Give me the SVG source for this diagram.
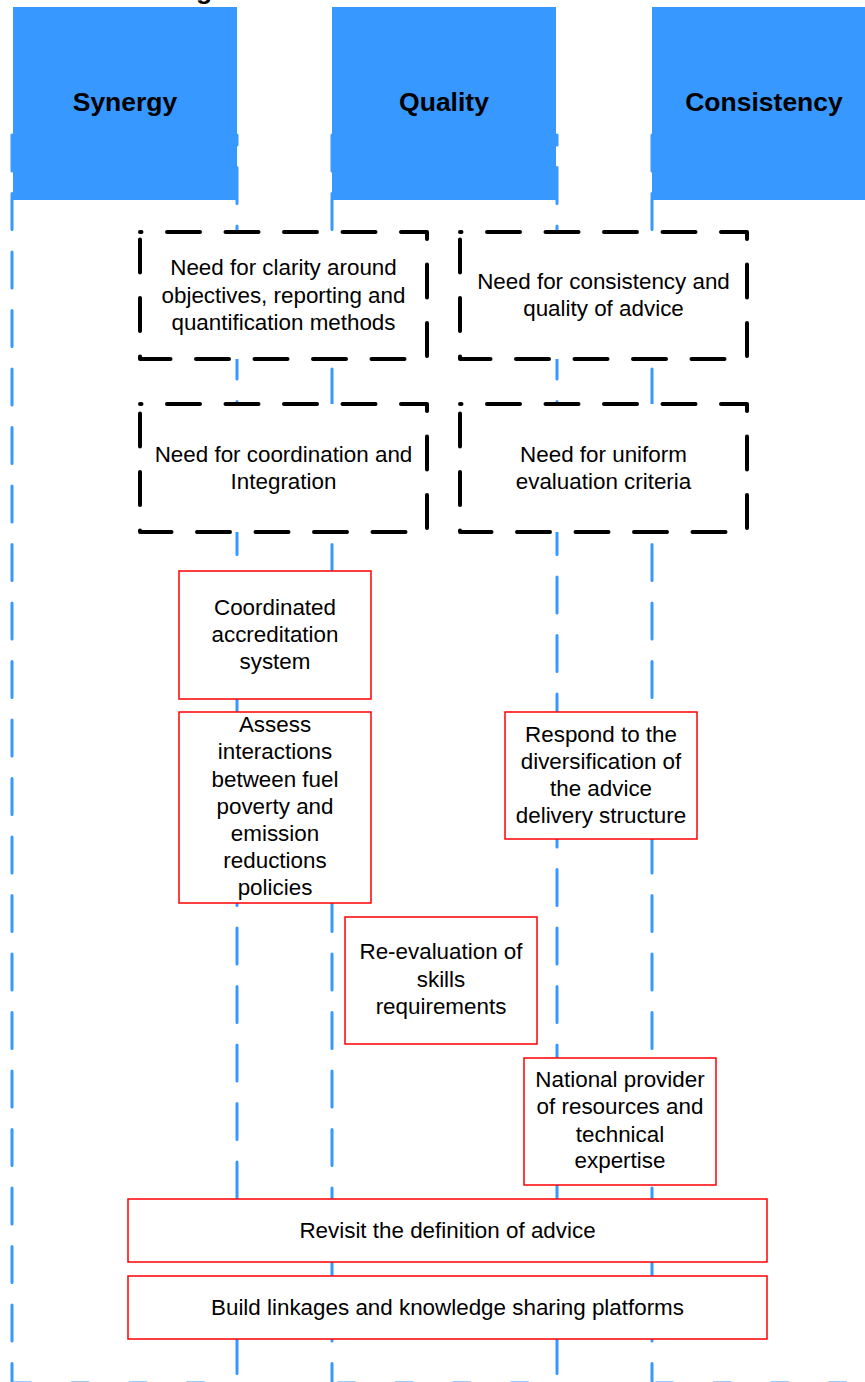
<svg xmlns="http://www.w3.org/2000/svg" width="865" height="1382" viewBox="0 0 865 1382">
<style>
.lane{fill:none;stroke:#3798FF;stroke-width:3;stroke-linecap:round;stroke-dasharray:36 22.5}
.laneB{stroke-dashoffset:26}
.base{fill:none;stroke:#3798FF;stroke-width:3;stroke-linecap:round;stroke-dasharray:17 40.7}
.hdr{fill:#3798FF}
.hdrt{font-family:"Liberation Sans",Arial,sans-serif;font-weight:bold;font-size:26.5px;fill:#000;text-anchor:middle}
.need{fill:#fff;stroke:#000;stroke-width:4;stroke-linecap:round;stroke-linejoin:round;stroke-dasharray:33 25.5;stroke-dashoffset:31.5}
.act{fill:#fff;stroke:#FF0000;stroke-width:1.5}
.t{font-family:"Liberation Sans",Arial,sans-serif;font-size:22.4px;fill:#000;text-anchor:middle}
</style>
<rect width="865" height="1382" fill="#fff"/>
<text class="hdrt" x="204" y="-1.5">g</text>
<g id="connectors">
  <path class="lane" d="M12,135 V1383"/>
  <path class="lane laneB" d="M237,135 V1383"/>
  <path class="lane" d="M332,135 V1383"/>
  <path class="lane laneB" d="M557,135 V1383"/>
  <path class="lane" d="M652,135 V1383"/>
  <path class="base" d="M14,1383 H237"/>
  <path class="base" d="M338,1383 H557"/>
  <path class="base" d="M656,1383 H865"/>
</g>
<g id="lane-synergy">
  <rect class="hdr" x="13" y="7" width="224" height="193"/>
  <text class="hdrt" x="125" y="111">Synergy</text>
</g>
<g id="lane-quality">
  <rect class="hdr" x="332" y="7" width="224" height="193"/>
  <text class="hdrt" x="444" y="111">Quality</text>
</g>
<g id="lane-consistency">
  <rect class="hdr" x="652" y="7" width="225" height="193"/>
  <text class="hdrt" x="764" y="111">Consistency</text>
</g>
<g id="need-clarity">
  <path class="need" d="M140,232 H427 V359 H140 Z"/>
  <text class="t" x="283.5" y="275">Need for clarity around</text>
  <text class="t" x="283.5" y="302.5">objectives, reporting and</text>
  <text class="t" x="283.5" y="330">quantification methods</text>
</g>
<g id="need-consistency">
  <path class="need" d="M460,232 H747 V359 H460 Z"/>
  <text class="t" x="603.5" y="289">Need for consistency and</text>
  <text class="t" x="603.5" y="316">quality of advice</text>
</g>
<g id="need-coordination">
  <path class="need" d="M140,404 H427 V532 H140 Z"/>
  <text class="t" x="283.5" y="462">Need for coordination and</text>
  <text class="t" x="283.5" y="489">Integration</text>
</g>
<g id="need-uniform">
  <path class="need" d="M460,404 H747 V532 H460 Z"/>
  <text class="t" x="603.5" y="462">Need for uniform</text>
  <text class="t" x="603.5" y="489">evaluation criteria</text>
</g>
<g id="coordinated-accreditation">
  <rect class="act" x="179" y="571" width="192" height="128"/>
  <text class="t" x="275" y="615">Coordinated</text>
  <text class="t" x="275" y="642">accreditation</text>
  <text class="t" x="275" y="669">system</text>
</g>
<g id="assess-interactions">
  <rect class="act" x="179" y="712" width="192" height="191"/>
  <text class="t" x="275" y="732">Assess</text>
  <text class="t" x="275" y="759">interactions</text>
  <text class="t" x="275" y="787">between fuel</text>
  <text class="t" x="275" y="814">poverty and</text>
  <text class="t" x="275" y="841">emission</text>
  <text class="t" x="275" y="868">reductions</text>
  <text class="t" x="275" y="895">policies</text>
</g>
<g id="respond-diversification">
  <rect class="act" x="505" y="712" width="192" height="127"/>
  <text class="t" x="601" y="742">Respond to the</text>
  <text class="t" x="601" y="769">diversification of</text>
  <text class="t" x="601" y="796">the advice</text>
  <text class="t" x="601" y="823">delivery structure</text>
</g>
<g id="re-evaluation">
  <rect class="act" x="345" y="917" width="192" height="127"/>
  <text class="t" x="441" y="959">Re-evaluation of</text>
  <text class="t" x="441" y="987">skills</text>
  <text class="t" x="441" y="1014">requirements</text>
</g>
<g id="national-provider">
  <rect class="act" x="524" y="1058" width="192" height="127"/>
  <text class="t" x="620" y="1087">National provider</text>
  <text class="t" x="620" y="1114">of resources and</text>
  <text class="t" x="620" y="1142">technical</text>
  <text class="t" x="620" y="1168">expertise</text>
</g>
<g id="revisit-definition">
  <rect class="act" x="128" y="1199" width="639" height="63"/>
  <text class="t" x="447.5" y="1238">Revisit the definition of advice</text>
</g>
<g id="build-linkages">
  <rect class="act" x="128" y="1276" width="639" height="63"/>
  <text class="t" x="447.5" y="1315">Build linkages and knowledge sharing platforms</text>
</g>
</svg>
